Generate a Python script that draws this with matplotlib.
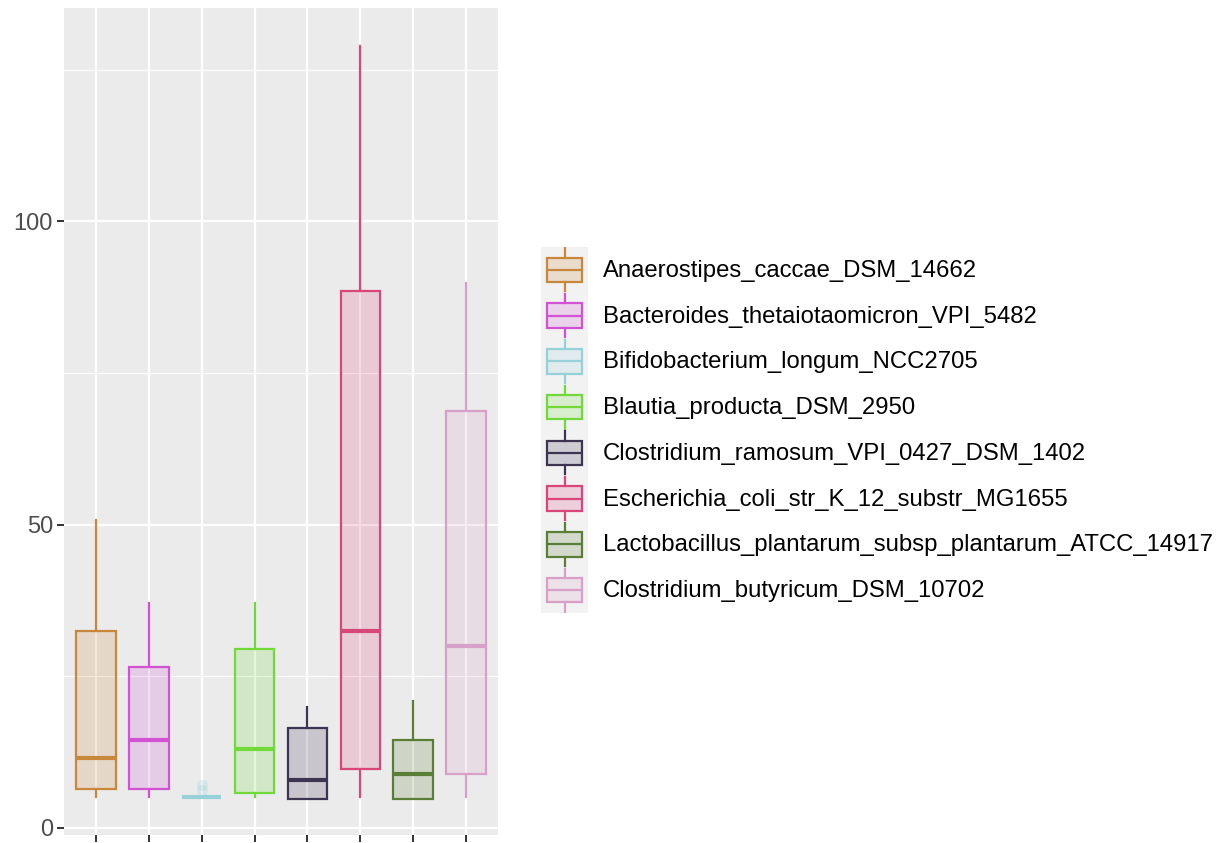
import matplotlib
matplotlib.use("Agg")
import matplotlib.pyplot as plt
from matplotlib.colors import to_rgba

species = [
    "Anaerostipes_caccae_DSM_14662",
    "Bacteroides_thetaiotaomicron_VPI_5482",
    "Bifidobacterium_longum_NCC2705",
    "Blautia_producta_DSM_2950",
    "Clostridium_ramosum_VPI_0427_DSM_1402",
    "Escherichia_coli_str_K_12_substr_MG1655",
    "Lactobacillus_plantarum_subsp_plantarum_ATCC_14917",
    "Clostridium_butyricum_DSM_10702",
]
colors = ["#C8873A", "#D152D2", "#96D0D8", "#72D93B",
          "#3D3452", "#D8467A", "#5B7E36", "#D8A0C8"]

whislo = [5.0, 5.0, 5.0, 5.0, 4.8, 5.0, 4.8, 5.0]
q1 = [6.4, 6.4, 5.0, 5.7, 4.8, 9.7, 4.8, 8.9]
med = [11.5, 14.5, 5.0, 13.0, 7.9, 32.5, 8.9, 30.0]
q3 = [32.5, 26.5, 5.0, 29.5, 16.5, 88.6, 14.5, 68.8]
whishi = [50.8, 37.0, 5.0, 37.0, 19.9, 129.0, 20.9, 89.9]
outliers = [[], [], [6.2, 7.1], [], [], [], [], []]

plt.rcParams["font.family"] = ["Liberation Sans", "DejaVu Sans"]

W, H = 1223, 843
fig = plt.figure(figsize=(W / 100, H / 100), dpi=100)
ax = fig.add_axes([64 / W, 1 - 835 / H, (498 - 64) / W, (835 - 8) / H])
ax.set_facecolor("#EBEBEB")
for s in ax.spines.values():
    s.set_visible(False)

positions = list(range(1, len(species) + 1))
for i, c in enumerate(colors):
    st = dict(whislo=whislo[i], q1=q1[i], med=med[i], q3=q3[i],
              whishi=whishi[i], fliers=outliers[i])
    ax.bxp([st], positions=[positions[i]], widths=0.75, patch_artist=True,
           showcaps=False,
           boxprops=dict(facecolor=to_rgba(c, 0.2), edgecolor=c, linewidth=1.6),
           medianprops=dict(color=c, linewidth=3.0, solid_capstyle="butt"),
           whiskerprops=dict(color=c, linewidth=1.6),
           flierprops=dict(marker="o", markersize=8, markerfacecolor=to_rgba(c, 0.25),
                           markeredgecolor="none"),
           zorder=3)

ax.set_xlim(0.4, 8.6)
ax.set_ylim(-1.2, 135.2)
ax.set_xticks(positions)
ax.set_xticklabels([])
ax.set_yticks([0, 50, 100])
ax.set_yticks([25, 75, 125], minor=True)
ax.grid(True, which="major", color="white", linewidth=1.6, zorder=0)
ax.grid(True, which="minor", axis="y", color="white", linewidth=0.8, zorder=0)
ax.set_axisbelow(True)
ax.tick_params(axis="both", which="major", length=5, width=1.4, color="#333333",
               labelsize=17, labelcolor="#4D4D4D", pad=3)
ax.tick_params(axis="y", which="minor", length=0)

# legend drawn as small boxplot keys
lx0, lx1, ly0, ly1 = 541, 588, 247, 613
lax = fig.add_axes([lx0 / W, 1 - ly1 / H, (lx1 - lx0) / W, (ly1 - ly0) / H])
lax.set_facecolor("#F2F2F2")
for s in lax.spines.values():
    s.set_visible(False)
row_h = (ly1 - ly0) / len(species)
for i, (name, c) in enumerate(zip(species, colors)):
    st = dict(whislo=i + 0.03, q1=i + 0.23, med=i + 0.5, q3=i + 0.77,
              whishi=i + 0.97, fliers=[])
    lax.bxp([st], positions=[0.5], widths=0.76, patch_artist=True, showcaps=False,
            boxprops=dict(facecolor=to_rgba(c, 0.2), edgecolor=c, linewidth=1.6),
            medianprops=dict(color=c, linewidth=1.6),
            whiskerprops=dict(color=c, linewidth=1.6))
    fig.text(603 / W, 1 - (ly0 + row_h * (i + 0.5) + 1) / H, name,
             fontsize=17.2, color="black", va="center", ha="left")
lax.set_xlim(0, 1)
lax.set_ylim(len(species), 0)
lax.set_xticks([])
lax.set_yticks([])

fig.savefig("out.png", dpi=100)
